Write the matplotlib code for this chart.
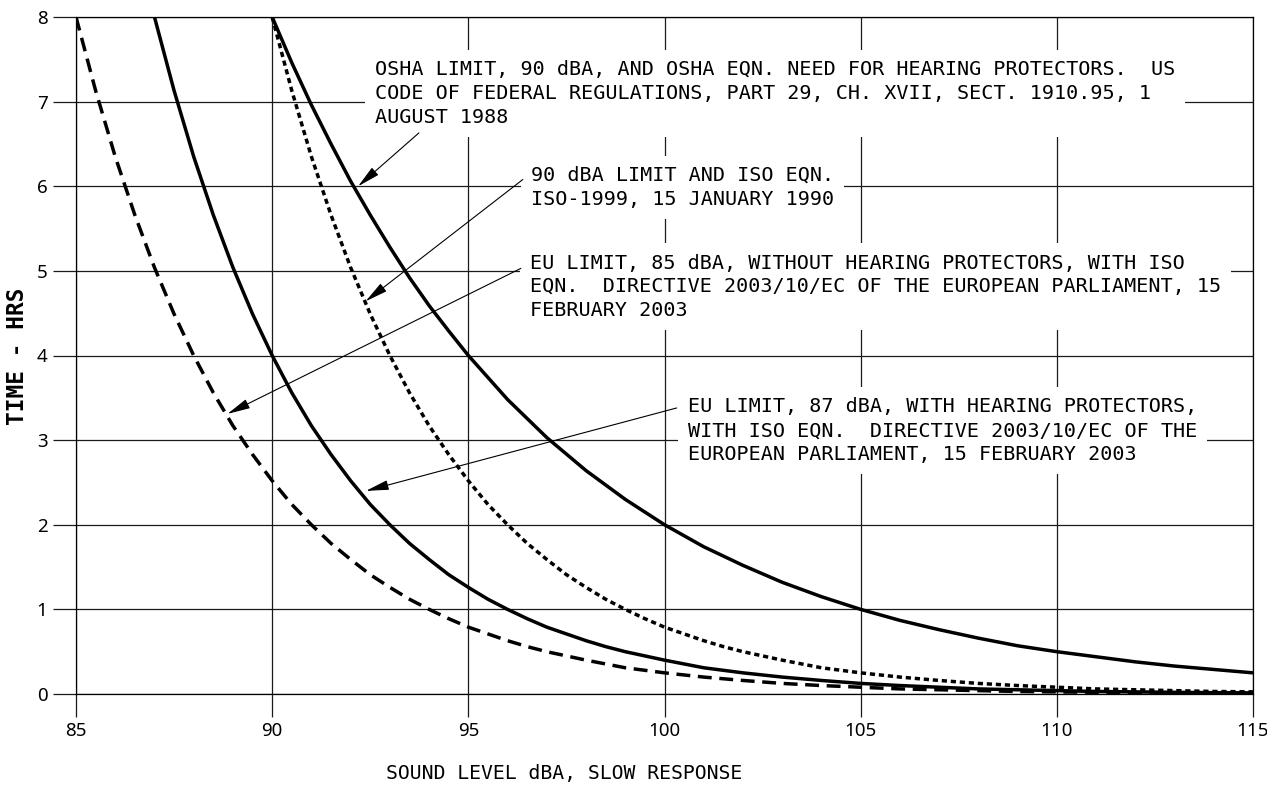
import matplotlib
matplotlib.use("Agg")
import matplotlib.pyplot as plt

# curves (sound level dBA -> permitted time, hrs)
osha_db = [90, 90.5, 91, 91.5, 92, 92.5, 93, 93.5, 94, 94.5, 95, 96, 97, 98, 99,
           100, 101, 102, 103, 104, 105, 106, 107, 108, 109, 110, 111, 112, 113,
           114, 115]
osha_hrs = [8.00, 7.46, 6.96, 6.50, 6.06, 5.66, 5.28, 4.92, 4.59, 4.29, 4.00, 3.48,
            3.03, 2.64, 2.30, 2.00, 1.74, 1.52, 1.32, 1.15, 1.00, 0.87, 0.76, 0.66,
            0.57, 0.50, 0.44, 0.38, 0.33, 0.29, 0.25]

iso_db = [90, 90.5, 91, 91.5, 92, 92.5, 93, 93.5, 94, 94.5, 95, 95.5, 96, 96.5, 97,
          97.5, 98, 98.5, 99, 99.5, 100, 100.5, 101, 101.5, 102, 103, 104, 105, 106,
          107, 108, 109, 110, 111, 112, 113, 114, 115]
iso_hrs = [8.00, 7.13, 6.35, 5.66, 5.04, 4.49, 4.00, 3.56, 3.17, 2.83, 2.52, 2.24,
           2.00, 1.78, 1.59, 1.41, 1.26, 1.12, 1.00, 0.89, 0.79, 0.71, 0.63, 0.56,
           0.50, 0.40, 0.31, 0.25, 0.20, 0.16, 0.125, 0.10, 0.08, 0.06, 0.05, 0.04,
           0.03, 0.025]

eu85_db = [85, 85.5, 86, 86.5, 87, 87.5, 88, 88.5, 89, 89.5, 90, 90.5, 91, 91.5, 92,
           92.5, 93, 93.5, 94, 94.5, 95, 95.5, 96, 96.5, 97, 98, 99, 100, 101, 102,
           103, 104, 105, 106, 107, 108, 109, 110, 111, 112, 113, 114, 115]
eu85_hrs = [8.00, 7.13, 6.35, 5.66, 5.04, 4.49, 4.00, 3.56, 3.17, 2.83, 2.52, 2.24,
            2.00, 1.78, 1.59, 1.41, 1.26, 1.12, 1.00, 0.89, 0.79, 0.71, 0.63, 0.56,
            0.50, 0.40, 0.31, 0.25, 0.20, 0.16, 0.125, 0.10, 0.08, 0.06, 0.05, 0.04,
            0.03, 0.025, 0.02, 0.016, 0.012, 0.01, 0.008]

eu87_db = [87, 87.5, 88, 88.5, 89, 89.5, 90, 90.5, 91, 91.5, 92, 92.5, 93, 93.5, 94,
           94.5, 95, 95.5, 96, 96.5, 97, 97.5, 98, 98.5, 99, 100, 101, 102, 103, 104,
           105, 106, 107, 108, 109, 110, 111, 112, 113, 114, 115]
eu87_hrs = [8.00, 7.13, 6.35, 5.66, 5.04, 4.49, 4.00, 3.56, 3.17, 2.83, 2.52, 2.24,
            2.00, 1.78, 1.59, 1.41, 1.26, 1.12, 1.00, 0.89, 0.79, 0.71, 0.63, 0.56,
            0.50, 0.40, 0.31, 0.25, 0.20, 0.16, 0.125, 0.10, 0.08, 0.06, 0.05, 0.04,
            0.03, 0.025, 0.02, 0.016, 0.012]

x_ticks = [85, 90, 95, 100, 105, 110, 115]
y_ticks = [0, 1, 2, 3, 4, 5, 6, 7, 8]

osha_note = ("OSHA LIMIT, 90 dBA, AND OSHA EQN. NEED FOR HEARING PROTECTORS.  US\n"
             "CODE OF FEDERAL REGULATIONS, PART 29, CH. XVII, SECT. 1910.95, 1\n"
             "AUGUST 1988")
iso_note = "90 dBA LIMIT AND ISO EQN.\nISO-1999, 15 JANUARY 1990"
eu85_note = ("EU LIMIT, 85 dBA, WITHOUT HEARING PROTECTORS, WITH ISO\n"
             "EQN.  DIRECTIVE 2003/10/EC OF THE EUROPEAN PARLIAMENT, 15\n"
             "FEBRUARY 2003")
eu87_note = ("EU LIMIT, 87 dBA, WITH HEARING PROTECTORS,\n"
             "WITH ISO EQN.  DIRECTIVE 2003/10/EC OF THE\n"
             "EUROPEAN PARLIAMENT, 15 FEBRUARY 2003")

mono = "DejaVu Sans Mono"

fig = plt.figure(figsize=(12.67, 7.88), dpi=100)
ax = fig.add_axes([76 / 1267, 94 / 788, 1177 / 1267, 677 / 788])

lw = 2.5
ax.plot(osha_db, osha_hrs, color="black", lw=lw, solid_capstyle="butt")
ax.plot(iso_db, iso_hrs, color="black", lw=lw, linestyle=(0, (1.5, 1.1)))
ax.plot(eu85_db, eu85_hrs, color="black", lw=lw, linestyle=(0, (4.0, 2.2)))
ax.plot(eu87_db, eu87_hrs, color="black", lw=lw, solid_capstyle="butt")

ax.set_xlim(85, 115)
ax.set_ylim(0, 8)
ax.set_xticks(x_ticks)
ax.set_yticks(y_ticks)
ax.grid(True, color="0.1", lw=0.9)
ax.set_axisbelow(True)
for s in ax.spines.values():
    s.set_linewidth(0.9)
ax.tick_params(direction="out", length=16.5, width=0.9, color="0.1", pad=4,
               labelsize=13.5)
for lab in ax.get_xticklabels() + ax.get_yticklabels():
    lab.set_fontfamily("Noto Sans")

# notes with white boxes that break the grid
box = dict(boxstyle="square,pad=0.5", fc="white", ec="none")
note_kw = dict(family=mono, fontsize=14.5, ha="left", va="top",
               linespacing=1.32, bbox=box, zorder=4)
ax.text(92.62, 7.49, osha_note, **note_kw)
ax.text(96.59, 6.24, iso_note, **note_kw)
ax.text(96.57, 5.205, eu85_note, **note_kw)
ax.text(100.6, 3.504, eu87_note, **note_kw)

# leader arrows
arr = dict(arrowstyle="-|>,head_length=0.7,head_width=0.15", color="black",
           lw=0.8, mutation_scale=20, shrinkA=0, shrinkB=0)
ax.annotate("", xy=(92.19, 6.0), xytext=(93.74, 6.63), arrowprops=arr, zorder=5)
ax.annotate("", xy=(92.38, 4.64), xytext=(96.39, 6.08), arrowprops=arr, zorder=5)
ax.annotate("", xy=(88.86, 3.31), xytext=(96.34, 5.03), arrowprops=arr, zorder=5)
ax.annotate("", xy=(92.39, 2.40), xytext=(100.31, 3.38), arrowprops=arr, zorder=5)

fig.text(564 / 1267, 1 - 773 / 788, "SOUND LEVEL dBA, SLOW RESPONSE",
         family=mono, fontsize=14.2, ha="center", va="center")
fig.text(18 / 1267, 1 - 356 / 788, "TIME - HRS", family=mono, fontsize=16.4,
         fontweight="bold", rotation=90, ha="center", va="center")

fig.savefig("out.png", dpi=100)
